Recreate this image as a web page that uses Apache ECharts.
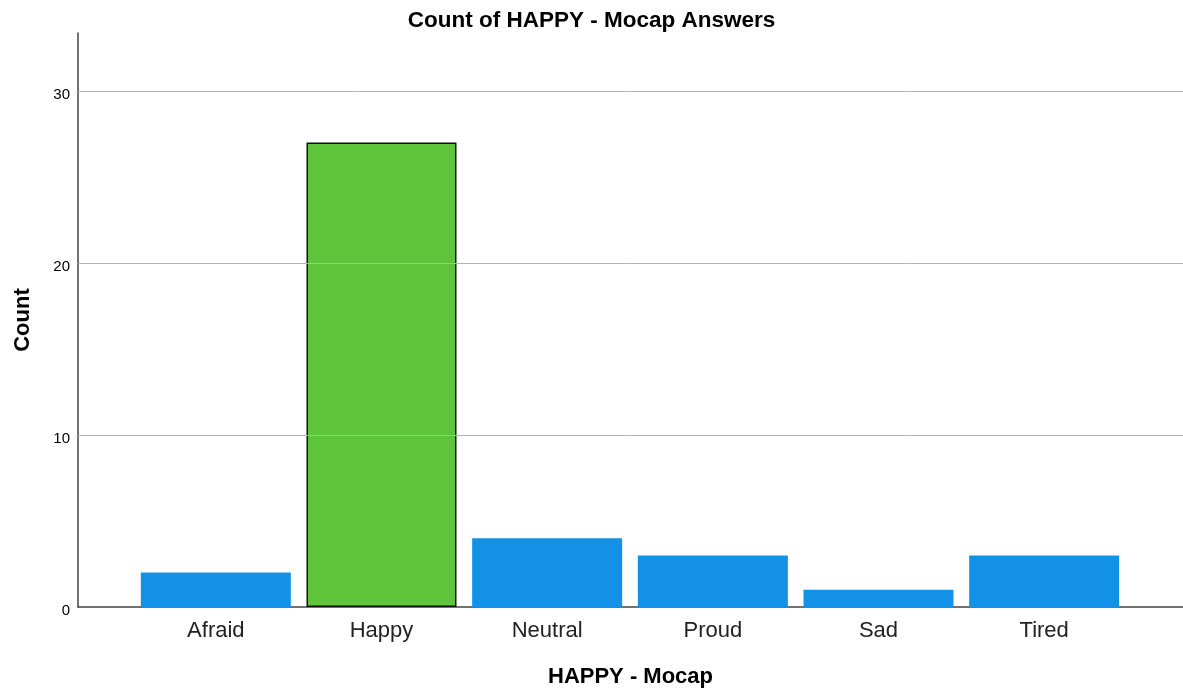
<!DOCTYPE html>
<html>
<head>
<meta charset="utf-8">
<script src="https://cdn.jsdelivr.net/npm/echarts@6/dist/echarts.min.js"></script>
<style>html,body{margin:0;padding:0;background:#fff}#c{width:1183px;height:691px}</style>
</head>
<body>
<div id="c"></div>
<script>
const categories = ['Afraid', 'Happy', 'Neutral', 'Proud', 'Sad', 'Tired'];
const counts = [2, 27, 4, 3, 1, 3];
const highlight = 'Happy';
const yTicks = [10, 20, 30];
const yMax = 33.37;

const chart = echarts.init(document.getElementById('c'), null, {renderer: 'canvas'});
const font = 'Liberation Sans, Arial, sans-serif';
const option = {
  animation: false,
  backgroundColor: '#ffffff',
  title: {
    text: 'Count of HAPPY - Mocap Answers',
    left: 'center', top: 4,
    textStyle: {fontFamily: font, fontSize: 22.5, fontWeight: 'bold', color: '#000'}
  },
  grid: [
    {left: 78, right: 0, top: 33, bottom: 84, outerBoundsMode: 'none', containLabel: false},
    {left: 133, right: 56, top: 33, bottom: 84, outerBoundsMode: 'none', containLabel: false}
  ],
  xAxis: [
    {
      gridIndex: 0, type: 'value', min: 0, max: 1,
      name: 'HAPPY - Mocap', nameLocation: 'middle', nameGap: 59,
      nameTextStyle: {fontFamily: font, fontSize: 22, fontWeight: 'bold', color: '#000'},
      axisLine: {show: true, lineStyle: {color: '#444', width: 1.5}},
      axisTick: {show: false}, axisLabel: {show: false}, splitLine: {show: false}
    },
    {
      gridIndex: 1, type: 'category', data: categories,
      axisLine: {show: false}, axisTick: {show: false},
      axisLabel: {fontFamily: font, fontSize: 22, color: '#222', margin: 13},
      splitLine: {show: false}
    }
  ],
  yAxis: [
    {
      gridIndex: 0, type: 'value', min: 0, max: yMax,
      name: 'Count', nameLocation: 'middle', nameGap: 44,
      nameTextStyle: {fontFamily: font, fontSize: 22, fontWeight: 'bold', color: '#000'},
      axisLine: {show: true, lineStyle: {color: '#444', width: 1.5}},
      axisTick: {show: false},
      axisLabel: {
        fontFamily: font, fontSize: 15, color: '#000', margin: 8,
        verticalAlign: 'top', lineHeight: 8,
        formatter: v => (v % 10 === 0 ? String(v) : '')
      },
      splitLine: {show: false}
    },
    {
      gridIndex: 1, type: 'value', min: 0, max: yMax, show: false
    }
  ],
  series: [
    {
      type: 'line', xAxisIndex: 0, yAxisIndex: 0,
      data: [[0, 0]], symbol: 'none', lineStyle: {opacity: 0}, silent: true,
      markLine: {
        silent: true, symbol: 'none', label: {show: false},
        lineStyle: {color: '#b4b4b4', width: 1, type: 'solid'},
        data: yTicks.map(v => ({yAxis: v}))
      }
    },
    {
      type: 'bar', xAxisIndex: 1, yAxisIndex: 1, barWidth: 150,
      data: counts.map((v, i) => {
        const hi = categories[i] === highlight;
        return {
          value: v,
          itemStyle: hi ? {color: '#5ec439', borderColor: '#111', borderWidth: 1.5}
                        : {color: '#1391e7'}
        };
      })
    }
  ]
};
chart.setOption(option);
</script>
</body>
</html>
